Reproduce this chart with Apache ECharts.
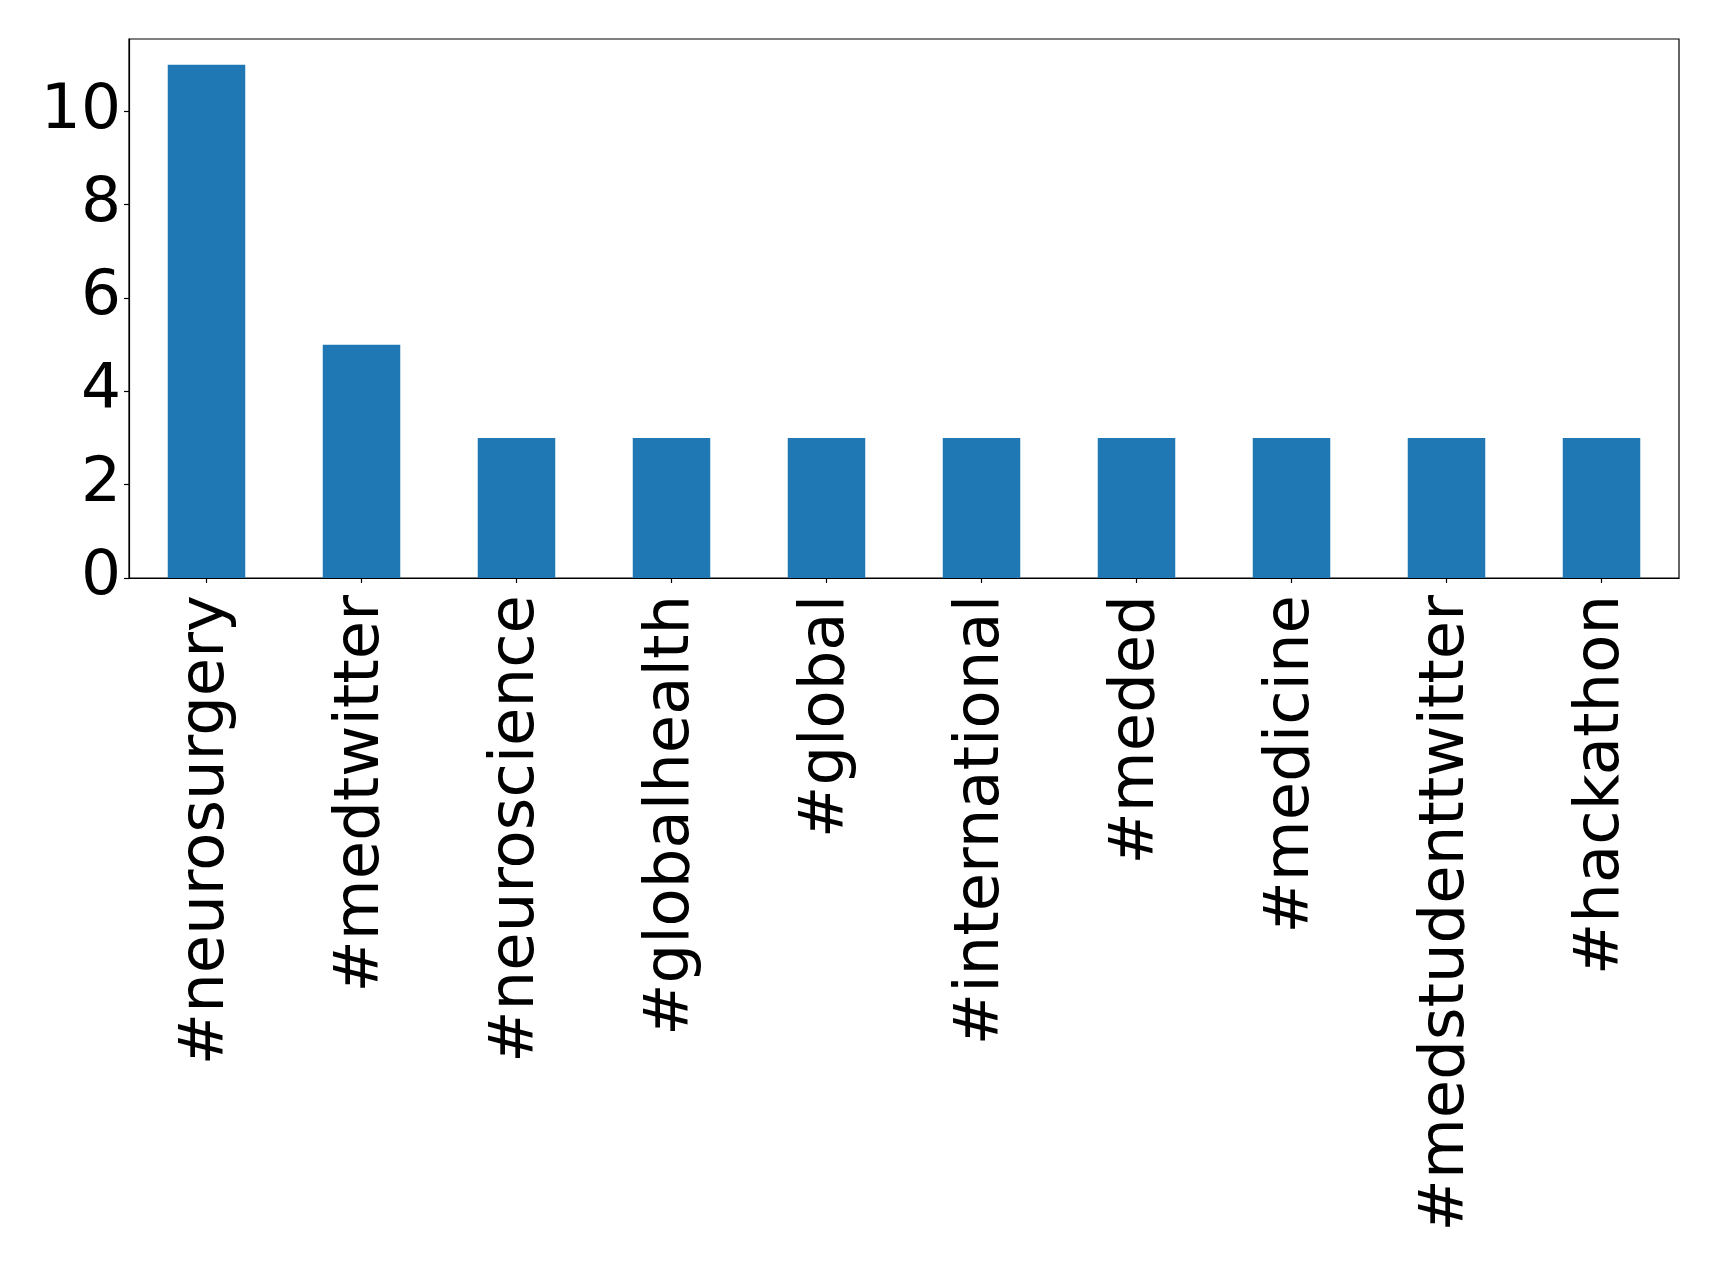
<!DOCTYPE html>
<html>
<head>
<meta charset="utf-8">
<script src="https://cdn.jsdelivr.net/npm/echarts@6/dist/echarts.min.js"></script>
<style>
  html, body { margin: 0; padding: 0; background: #fff; }
  #chart { width: 1719px; height: 1264px; }
</style>
</head>
<body>
<div id="chart"></div>
<script>
// Hashtag counts
const hashtags = ['#neurosurgery', '#medtwitter', '#neuroscience', '#globalhealth', '#global',
  '#international', '#meded', '#medicine', '#medstudenttwitter', '#hackathon'];
const counts = [11, 5, 3, 3, 3, 3, 3, 3, 3, 3];
const yTicks = [0, 2, 4, 6, 8, 10];

const chart = echarts.init(document.getElementById('chart'), null, { renderer: 'canvas' });
const font = 'DejaVu Sans';

chart.setOption({
  animation: false,
  backgroundColor: '#ffffff',
  grid: {
    left: 129, top: 39, right: 40, bottom: 686,
    show: true, borderColor: '#000', borderWidth: 1.2, backgroundColor: 'transparent'
  },
  xAxis: {
    type: 'category',
    data: hashtags,
    boundaryGap: true,
    axisLine: { show: true, lineStyle: { color: '#000', width: 1.2 } },
    axisTick: { show: true, alignWithLabel: true, length: 5, lineStyle: { color: '#000', width: 1.2 } },
    axisLabel: {
      interval: 0, rotate: 90, margin: 17,
      color: '#000', fontFamily: font, fontSize: 62.5
    },
    splitLine: { show: false }
  },
  yAxis: {
    type: 'value',
    min: 0, max: 11.55, interval: 2,
    axisLine: { show: true, lineStyle: { color: '#000', width: 1.2 } },
    axisTick: { show: true, length: 5, customValues: yTicks, lineStyle: { color: '#000', width: 1.2 } },
    axisLabel: {
      customValues: yTicks, margin: 8, lineHeight: 72, padding: [10, 0, 0, 0],
      color: '#000', fontFamily: font, fontSize: 63
    },
    splitLine: { show: false }
  },
  series: [{
    type: 'bar',
    data: counts,
    barWidth: '50%',
    itemStyle: { color: '#1f77b4' }
  }]
});
</script>
</body>
</html>
